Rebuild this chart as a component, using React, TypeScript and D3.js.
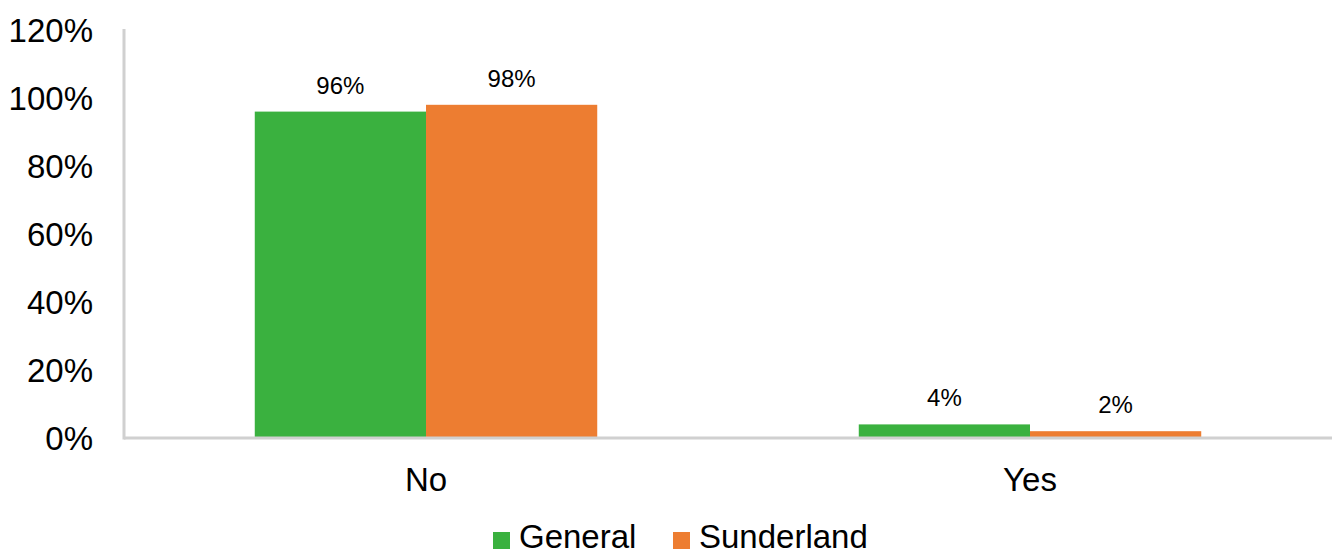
import React from "react";
import * as d3 from "d3";

const categories = ["No", "Yes"];
const seriesNames = ["General", "Sunderland"];
const generalValues = [96, 4];
const sunderlandValues = [98, 2];
const yTicks = [0, 20, 40, 60, 80, 100, 120];
const colors = ["#3AB13F", "#ED7D31"];

const W = 1335;
const H = 556;
const FONT = "'Liberation Sans', Arial, sans-serif";

export default function App() {
  const left = 124;
  const right = 1332;
  const y0 = 438;
  const yTop = 30;

  const y = d3.scaleLinear().domain([0, 120]).range([y0, yTop]);
  const x0 = d3
    .scaleBand<string>()
    .domain(categories)
    .range([left, right])
    .paddingInner(0.433)
    .paddingOuter(0.2165);
  const x1 = d3
    .scaleBand<string>()
    .domain(seriesNames)
    .range([0, x0.bandwidth()])
    .padding(0);

  const series = [generalValues, sunderlandValues];

  return (
    <svg
      width={W}
      height={H}
      style={{ position: "absolute", left: 0, top: 0, background: "#fff" }}
      fontFamily={FONT}
    >
      {/* y tick labels */}
      {yTicks.map((t) => (
        <text
          key={t}
          x={93}
          y={y(t)}
          dy="0.35em"
          textAnchor="end"
          fontSize={33}
          fill="#000"
        >
          {t}%
        </text>
      ))}

      {/* bars */}
      {categories.map((c, ci) =>
        seriesNames.map((s, si) => {
          const v = series[si][ci];
          const bx = (x0(c) ?? 0) + (x1(s) ?? 0);
          const bw = x1.bandwidth();
          return (
            <g key={c + s}>
              <rect
                x={bx}
                y={y(v)}
                width={bw}
                height={y0 - y(v)}
                fill={colors[si]}
              />
              <text
                x={bx + bw / 2}
                y={y(v) - 18}
                textAnchor="middle"
                fontSize={24}
                fill="#000"
              >
                {v}%
              </text>
            </g>
          );
        })
      )}

      {/* axes */}
      <line x1={left} x2={left} y1={yTop - 1} y2={y0 + 1.5} stroke="#D0D0D0" strokeWidth={3} />
      <line x1={left} x2={right} y1={y0} y2={y0} stroke="#D0D0D0" strokeWidth={3} />

      {/* category labels */}
      {categories.map((c) => (
        <text
          key={c}
          x={(x0(c) ?? 0) + x0.bandwidth() / 2}
          y={491}
          textAnchor="middle"
          fontSize={33}
          fill="#000"
        >
          {c}
        </text>
      ))}

      {/* legend */}
      {seriesNames.map((s, i) => {
        const lx = i === 0 ? 493 : 673;
        return (
          <g key={s}>
            <rect x={lx} y={532} width={17} height={17} fill={colors[i]} />
            <text x={lx + 26} y={548} fontSize={33} fill="#000">
              {s}
            </text>
          </g>
        );
      })}
    </svg>
  );
}
